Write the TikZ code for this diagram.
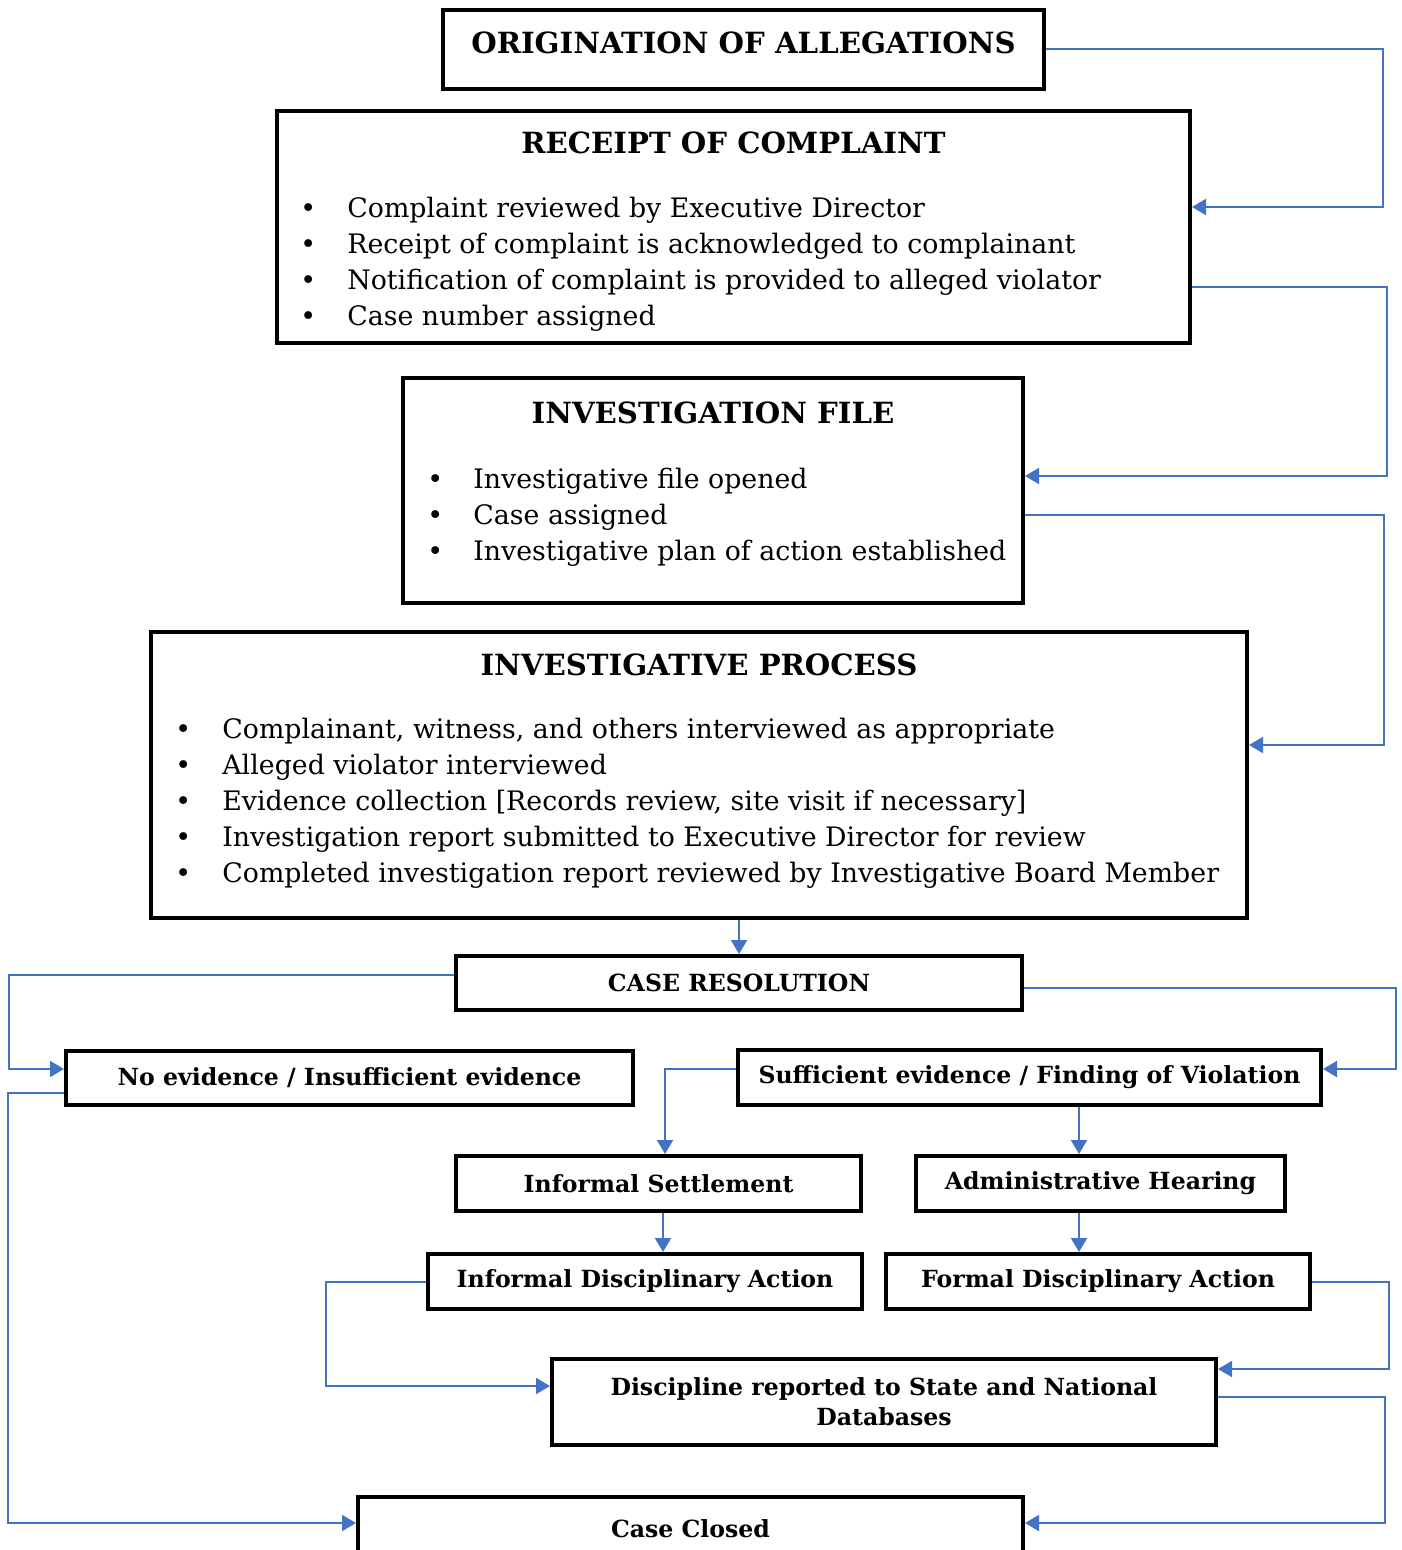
\documentclass[tikz,border=0pt]{standalone}
\usepackage{fontspec}
\setmainfont{DejaVu Serif}
\usepackage{tikz}
\usetikzlibrary{calc,positioning,arrows.meta}
\definecolor{linkblue}{HTML}{4472C4}

\begin{document}
\begin{tikzpicture}[x=0.5pt,y=-0.5pt]
\tikzset{stepbox/.style={draw,line width=2pt,inner sep=0,minimum height=27.5pt},
bigbox/.style={draw,line width=2pt,inner sep=0},
boxtitle/.style={inner sep=0,font=\fontsize{14.6}{17}\selectfont\bfseries},
boxtext/.style={font=\fontsize{11.8}{15}\selectfont\bfseries,align=center},
itemlist/.style={inner sep=0,anchor=north west,font=\fontsize{13.4}{18}\selectfont},
link/.style={draw=linkblue,line width=1pt,-{Triangle[length=7pt,width=8pt]},fill=none}}

\useasboundingbox (0,0) rectangle (1401,1550);

%% Boxes
\node (orig) [bigbox,minimum width=300.5pt,minimum height=39.5pt] at (743.5,49.5) {};
\node (origtitle) [boxtitle] at (743.5,43) {ORIGINATION OF ALLEGATIONS};

\node (receipt) [bigbox,minimum width=456.5pt,minimum height=116pt] at (733.5,227) {};
\node (receipttitle) [boxtitle] at (733.5,143) {RECEIPT OF COMPLAINT};
\node (receiptitems) [itemlist] at (300,192) {%
\begin{tabular}{@{}p{23.5pt}@{}l@{}}
\textbullet & Complaint reviewed by Executive Director\\
\textbullet & Receipt of complaint is acknowledged to complainant\\
\textbullet & Notification of complaint is provided to alleged violator\\
\textbullet & Case number assigned\\
\end{tabular}};

\node (invfile) [bigbox,minimum width=310pt,minimum height=112.5pt] at (713,490.5) {};
\node (invfiletitle) [boxtitle] at (713,413) {INVESTIGATION FILE};
\node (invfileitems) [itemlist] at (427,463) {%
\begin{tabular}{@{}p{23pt}@{}l@{}}
\textbullet & Investigative file opened\\
\textbullet & Case assigned\\
\textbullet & Investigative plan of action established\\
\end{tabular}};

\node (invproc) [bigbox,minimum width=548pt,minimum height=143pt] at (699,775) {};
\node (invproctitle) [boxtitle] at (699,665) {INVESTIGATIVE PROCESS};
\node (invprocitems) [itemlist] at (175,713) {%
\begin{tabular}{@{}p{23.5pt}@{}l@{}}
\textbullet & Complainant, witness, and others interviewed as appropriate\\
\textbullet & Alleged violator interviewed\\
\textbullet & Evidence collection [Records review, site visit if necessary]\\
\textbullet & Investigation report submitted to Executive Director for review\\
\textbullet & Completed investigation report reviewed by Investigative Board Member\\
\end{tabular}};

\node (caseres) [stepbox,boxtext,minimum width=283pt,minimum height=27pt] at (739,983) {CASE RESOLUTION};
\node (noev) [stepbox,boxtext,minimum width=283.5pt,minimum height=27pt] at (349.5,1078) {No evidence / Insufficient evidence};
\node (suff) [stepbox,boxtext,minimum width=291.5pt] at (1029.5,1077.5) {Sufficient evidence / Finding of Violation};
\node (infset) [stepbox,boxtext,minimum width=202.5pt] at (658.5,1183.5) {Informal Settlement};
\node (admin) [stepbox,boxtext,minimum width=184.5pt] at (1100.5,1183.5) {Administrative Hearing};
\node (infdisc) [stepbox,boxtext,minimum width=217pt] at (645,1281.5) {Informal Disciplinary Action};
\node (formdisc) [stepbox,boxtext,minimum width=212pt] at (1098,1281.5) {Formal Disciplinary Action};
\node (report) [stepbox,boxtext,minimum width=332pt,minimum height=43pt] at (884,1402) {Discipline reported to State and National\\Databases};
\node (closed) [stepbox,boxtext,minimum width=332.5pt,minimum height=31.5pt] at (690.5,1528.5) {Case Closed};

%% Connectors
\draw[link] (orig.east) -- ++(168.5pt,0) |- ([yshift=10pt]receipt.east);
\draw[link] ([yshift=-30pt]receipt.east) -- ++(97.5pt,0) |- ([yshift=7.25pt]invfile.east);
\draw[link] ([yshift=-12.25pt]invfile.east) -- ++(179.5pt,0) |- ([yshift=15pt]invproc.east);
\draw[link] (invproc.south -| caseres.north) -- (caseres.north);
\draw[link] ([yshift=4pt]caseres.west) -- ++(-222.5pt,0) |- ([yshift=4.5pt]noev.west);
\draw[link] ([yshift=-2.5pt]caseres.east) -- ++(186pt,0) |- ([yshift=4.25pt]suff.east);
\draw[link] ([yshift=4.25pt]suff.west) -| ([xshift=3.25pt]infset.north);
\draw[link] ([xshift=-10.75pt]admin.north |- suff.south) -- ([xshift=-10.75pt]admin.north);
\draw[link] ([xshift=2.25pt]infset.south) -- ([xshift=2.25pt]infset.south |- infdisc.north);
\draw[link] ([xshift=-10.75pt]admin.south) -- ([xshift=-10.75pt]admin.south |- formdisc.north);
\draw[link] (infdisc.west) -- ++(-50pt,0) |- ([yshift=8pt]report.west);
\draw[link] (formdisc.east) -- ++(38.5pt,0) |- ([yshift=16.5pt]report.east);
\draw[link] ([yshift=2.5pt]report.east) -- ++(83.5pt,0) |- ([yshift=2.75pt]closed.east);
\draw[link] ([yshift=-7.5pt]noev.west) -- ++(-28pt,0) |- ([yshift=2.75pt]closed.west);

\end{tikzpicture}
\end{document}
